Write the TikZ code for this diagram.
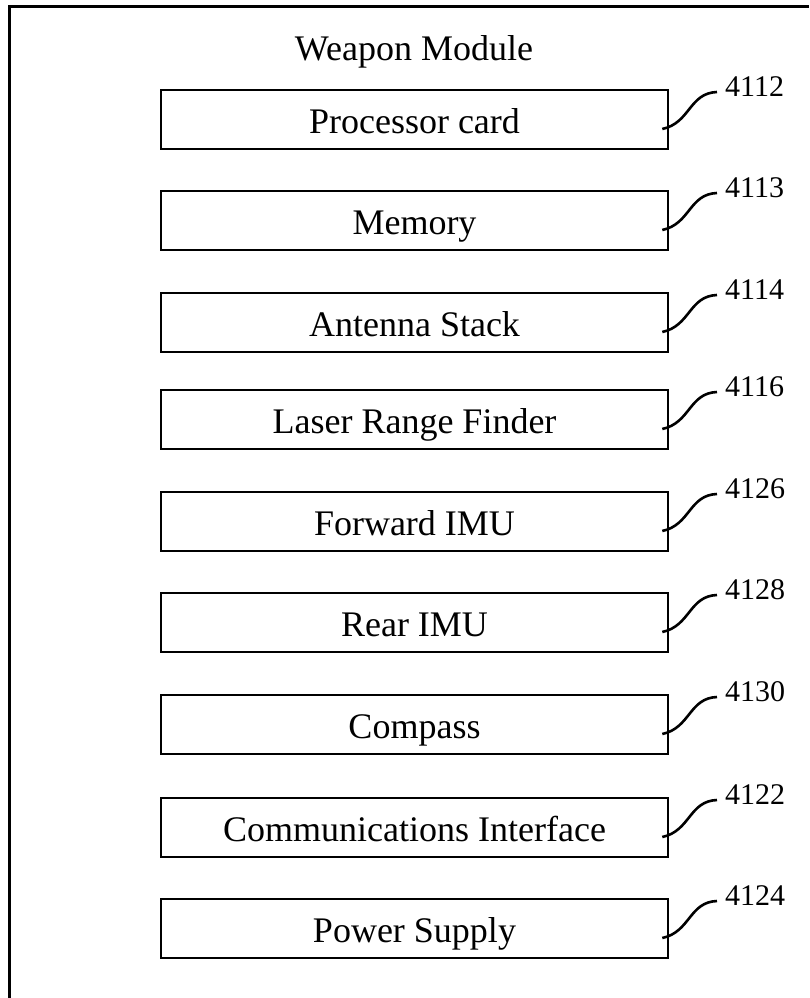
\documentclass[tikz,border=0pt]{standalone}
\usepackage{fontspec}
\setmainfont{Liberation Serif}
\usetikzlibrary{positioning}

\tikzset{
  modbox/.style={draw, line width=2.6pt, minimum width=507pt, minimum height=59pt,
    inner sep=0pt, text height=27pt, text depth=0pt, font=\fontsize{36}{40}\selectfont},
  reflabel/.style={anchor=base west, inner sep=0pt, font=\fontsize{30}{34}\selectfont},
  leader/.style={line width=2.6pt},
}

\begin{document}
\begin{tikzpicture}[x=1pt, y=-1pt]
  \useasboundingbox (0,0) rectangle (809,998);

  % outer frame
  \draw[line width=3pt] (9,998) -- (9,7) -- (809,7);
  \node[anchor=base, inner sep=0pt, font=\fontsize{36}{40}\selectfont] (title) at (414,60) {Weapon Module};

  % Processor card
  \node[modbox] (proc) at (414.5,119.5) {Processor card};
  \node[reflabel] (r4112) at (725,96) {4112};
  \draw[leader] ([xshift=-7pt,yshift=-9.5pt]proc.east) .. controls +(28,-6) and +(-28,1) .. ([xshift=-8pt,yshift=4pt]r4112.base west);

  % Memory
  \node[modbox] (mem) at (414.5,220.5) {Memory};
  \node[reflabel] (r4113) at (725,197) {4113};
  \draw[leader] ([xshift=-7pt,yshift=-9.5pt]mem.east) .. controls +(28,-6) and +(-28,1) .. ([xshift=-8pt,yshift=4pt]r4113.base west);

  % Antenna Stack
  \node[modbox] (ant) at (414.5,322.5) {Antenna Stack};
  \node[reflabel] (r4114) at (725,299) {4114};
  \draw[leader] ([xshift=-7pt,yshift=-9.5pt]ant.east) .. controls +(28,-6) and +(-28,1) .. ([xshift=-8pt,yshift=4pt]r4114.base west);

  % Laser Range Finder
  \node[modbox] (lrf) at (414.5,419.5) {Laser Range Finder};
  \node[reflabel] (r4116) at (725,396) {4116};
  \draw[leader] ([xshift=-7pt,yshift=-9.5pt]lrf.east) .. controls +(28,-6) and +(-28,1) .. ([xshift=-8pt,yshift=4pt]r4116.base west);

  % Forward IMU
  \node[modbox] (fimu) at (414.5,521.5) {Forward IMU};
  \node[reflabel] (r4126) at (725,498) {4126};
  \draw[leader] ([xshift=-7pt,yshift=-9.5pt]fimu.east) .. controls +(28,-6) and +(-28,1) .. ([xshift=-8pt,yshift=4pt]r4126.base west);

  % Rear IMU
  \node[modbox] (rimu) at (414.5,622.5) {Rear IMU};
  \node[reflabel] (r4128) at (725,599) {4128};
  \draw[leader] ([xshift=-7pt,yshift=-9.5pt]rimu.east) .. controls +(28,-6) and +(-28,1) .. ([xshift=-8pt,yshift=4pt]r4128.base west);

  % Compass
  \node[modbox] (comp) at (414.5,724.5) {Compass};
  \node[reflabel] (r4130) at (725,701) {4130};
  \draw[leader] ([xshift=-7pt,yshift=-9.5pt]comp.east) .. controls +(28,-6) and +(-28,1) .. ([xshift=-8pt,yshift=4pt]r4130.base west);

  % Communications Interface
  \node[modbox] (comm) at (414.5,827.5) {Communications Interface};
  \node[reflabel] (r4122) at (725,804) {4122};
  \draw[leader] ([xshift=-7pt,yshift=-9.5pt]comm.east) .. controls +(28,-6) and +(-28,1) .. ([xshift=-8pt,yshift=4pt]r4122.base west);

  % Power Supply
  \node[modbox] (pwr) at (414.5,928.5) {Power Supply};
  \node[reflabel] (r4124) at (725,905) {4124};
  \draw[leader] ([xshift=-7pt,yshift=-9.5pt]pwr.east) .. controls +(28,-6) and +(-28,1) .. ([xshift=-8pt,yshift=4pt]r4124.base west);
\end{tikzpicture}
\end{document}
